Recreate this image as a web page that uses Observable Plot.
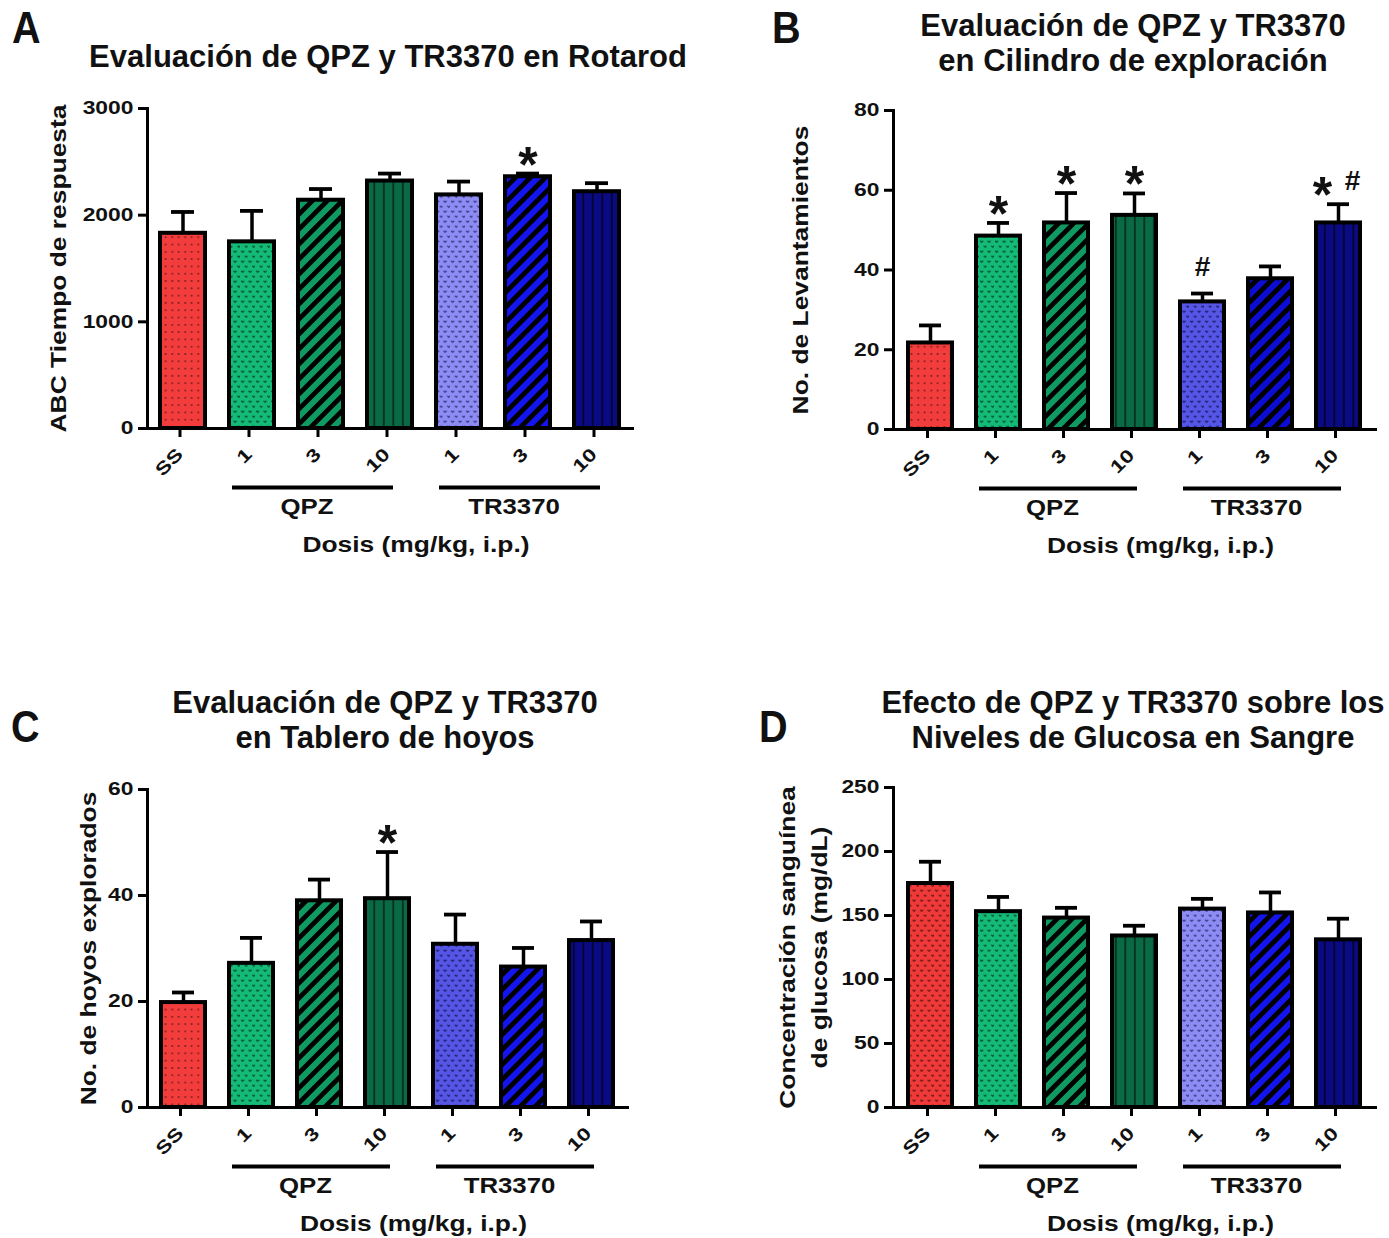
<!DOCTYPE html>
<html><head><meta charset="utf-8">
<script src="https://cdn.jsdelivr.net/npm/d3@7"></script>
<script src="https://cdn.jsdelivr.net/npm/@observablehq/plot@0.6"></script>
<style>
html,body{margin:0;padding:0;background:#fff;}
#page{position:relative;width:1389px;height:1238px;overflow:hidden;font-family:"Liberation Sans",Arial,sans-serif;color:#111;background:#fff;}
.title{position:absolute;font-weight:700;font-size:31px;line-height:35px;text-align:center;white-space:nowrap;width:700px;}
.letter{position:absolute;font-weight:700;font-size:45px;line-height:44px;transform:scaleX(0.88);transform-origin:left top;}
.panel{position:absolute;}
</style></head><body>
<svg width="0" height="0" style="position:absolute">
<defs>
<pattern id="pDotsRed" width="6.5" height="7.3" patternUnits="userSpaceOnUse">
 <rect width="6.5" height="7.3" fill="#f33d3d"/><rect x="2.4" y="2.8" width="1.6" height="1.6" fill="#3a0c0c" opacity="0.75"/>
</pattern>
<pattern id="pHeartRed" width="7.5" height="10" patternUnits="userSpaceOnUse">
 <rect width="7.5" height="10" fill="#f03a3a"/>
 <path d="M0.6,1.2 l1,-0.9 l1,0.9 l1,-0.9 l1,0.9 l-2,2.1z M4.35,6.2 l1,-0.9 l1,0.9 l1,-0.9 l1,0.9 l-2,2.1z" fill="#5a1010" opacity="0.75"/>
</pattern>
<pattern id="pHeartGreen" width="7.5" height="10" patternUnits="userSpaceOnUse">
 <rect width="7.5" height="10" fill="#14bb76"/>
 <path d="M0.6,1.2 l1,-0.9 l1,0.9 l1,-0.9 l1,0.9 l-2,2.1z M4.35,6.2 l1,-0.9 l1,0.9 l1,-0.9 l1,0.9 l-2,2.1z" fill="#04402a" opacity="0.75"/>
</pattern>
<pattern id="pHeartLav" width="7.5" height="10" patternUnits="userSpaceOnUse">
 <rect width="7.5" height="10" fill="#8c8cf4"/>
 <path d="M0.6,1.2 l1,-0.9 l1,0.9 l1,-0.9 l1,0.9 l-2,2.1z M4.35,6.2 l1,-0.9 l1,0.9 l1,-0.9 l1,0.9 l-2,2.1z" fill="#2a2a70" opacity="0.75"/>
</pattern>
<pattern id="pHeartBlue" width="7.5" height="10" patternUnits="userSpaceOnUse">
 <rect width="7.5" height="10" fill="#5555e6"/>
 <path d="M0.6,1.2 l1,-0.9 l1,0.9 l1,-0.9 l1,0.9 l-2,2.1z M4.35,6.2 l1,-0.9 l1,0.9 l1,-0.9 l1,0.9 l-2,2.1z" fill="#15155a" opacity="0.75"/>
</pattern>
<pattern id="pDiagGreen" width="10.6" height="10.6" patternUnits="userSpaceOnUse" patternTransform="rotate(45)">
 <rect width="10.6" height="10.6" fill="#0f9a62"/><rect width="4.8" height="10.6" fill="#000"/>
</pattern>
<pattern id="pDiagBlue" width="10.6" height="10.6" patternUnits="userSpaceOnUse" patternTransform="rotate(45)">
 <rect width="10.6" height="10.6" fill="#1414ee"/><rect width="4.8" height="10.6" fill="#000"/>
</pattern>
<pattern id="pDiagBlueB" width="10.6" height="10.6" patternUnits="userSpaceOnUse" patternTransform="rotate(45)">
 <rect width="10.6" height="10.6" fill="#0c0cd2"/><rect width="4.8" height="10.6" fill="#000"/>
</pattern>
<pattern id="pVertGreen" width="9.5" height="10" patternUnits="userSpaceOnUse">
 <rect width="9.5" height="10" fill="#0b6a46"/><rect x="3" width="1.6" height="10" fill="#04281a"/>
</pattern>
<pattern id="pVertNavy" width="9.5" height="10" patternUnits="userSpaceOnUse">
 <rect width="9.5" height="10" fill="#0a0a82"/><rect x="3" width="1.6" height="10" fill="#02022a"/>
</pattern>
</defs></svg>
<div id="page"></div>
<script>
// ---- data ----
const categories = ["SS", "QPZ 1", "QPZ 3", "QPZ 10", "TR3370 1", "TR3370 3", "TR3370 10"];
const tickLabels = ["SS", "1", "3", "10", "1", "3", "10"];
const groupNames = ["QPZ", "TR3370"];
const groupFirst = ["QPZ 1", "TR3370 1"];
const groupLast = ["QPZ 10", "TR3370 10"];
const groupMid = ["QPZ 3", "TR3370 3"];
const xTitle = "Dosis (mg/kg, i.p.)";

const rotarodMean = [1830, 1750, 2140, 2320, 2190, 2360, 2220];
const rotarodSem = [200, 290, 105, 70, 125, 30, 80];
const rotarodTicks = [0, 1000, 2000, 3000];
const rotarodMarks = [["TR3370 3", "*"]];

const cilindroMean = [21.7, 48.5, 51.8, 53.7, 32.0, 37.8, 51.8];
const cilindroSem = [4.4, 3.3, 7.5, 5.5, 2.1, 3.1, 4.7];
const cilindroTicks = [0, 20, 40, 60, 80];
const cilindroMarks = [["QPZ 1", "*"], ["QPZ 3", "*"], ["QPZ 10", "*"], ["TR3370 1", "#"], ["TR3370 10", "*"], ["TR3370 10", "#"]];

const tableroMean = [19.8, 27.2, 39.0, 39.4, 30.8, 26.5, 31.5];
const tableroSem = [1.9, 4.8, 4.0, 8.8, 5.6, 3.6, 3.6];
const tableroTicks = [0, 20, 40, 60];
const tableroMarks = [["QPZ 10", "*"]];

const glucosaMean = [175, 153, 148, 134, 155, 152, 131];
const glucosaSem = [17, 11.5, 8, 8, 8, 16, 16.5];
const glucosaTicks = [0, 50, 100, 150, 200, 250];
const glucosaMarks = [];

// ---- layout / style ----
const FONT = "Liberation Sans, Arial, Helvetica, sans-serif";
const page = document.getElementById("page");

function addDiv(cls, text, left, top, extra) {
  const d = document.createElement("div");
  d.className = cls;
  d.innerHTML = text;
  d.style.left = left + "px";
  d.style.top = top + "px";
  if (extra) Object.assign(d.style, extra);
  page.appendChild(d);
}

function stretch(svg) {
  svg.querySelectorAll("text").forEach((t) => {
    const s = t.textContent.trim();
    if (s === "*" || s === "#") return;
    const g = t.closest("g[aria-label]");
    const lab = g ? g.getAttribute("aria-label") : "";
    const k = /tick label/.test(lab) ? 1.27 : 1.2;
    let tr = t.getAttribute("transform");
    if (!tr) {
      const x = t.getAttribute("x") || 0, y = t.getAttribute("y") || 0;
      t.removeAttribute("x"); t.removeAttribute("y");
      tr = `translate(${x},${y})`;
    }
    t.setAttribute("transform", tr + ` scale(${k},1)`);
  });
}

function panel(cfg) {
  const data = categories.map((c, i) => ({key: c, mean: cfg.mean[i], top: cfg.mean[i] + cfg.sem[i]}));
  const topOf = Object.fromEntries(data.map((d) => [d.key, d.top]));
  const ann = cfg.marks.map(([key, sym]) => ({key, sym, top: topOf[key], pair: cfg.marks.filter((m) => m[0] === key).length > 1}));
  const groups = groupNames.map((g, i) => ({g, x1: groupFirst[i], x2: groupLast[i], mid: groupMid[i]}));
  const W = cfg.w, H = cfg.h;
  const textOpts = {fontFamily: FONT, fontWeight: "bold", fill: "#111"};
  const chart = Plot.plot({
    width: W, height: H,
    marginLeft: cfg.L - cfg.ox, marginRight: cfg.ox + W - cfg.R,
    marginTop: cfg.T - cfg.oy, marginBottom: cfg.oy + H - cfg.B,
    style: {background: "transparent", color: "#111", fontFamily: FONT, overflow: "visible"},
    x: {type: "band", domain: categories, paddingInner: 0.35, paddingOuter: 0.17, label: null},
    y: {domain: [0, cfg.max], label: null},
    marks: [
      ...data.map((d, i) => Plot.barY([d], {x: "key", y: "mean", fill: `url(#${cfg.fills[i]})`, stroke: "#000", strokeWidth: 4})),
      Plot.ruleX(data, {x: "key", y1: "mean", y2: "top", stroke: "#000", strokeWidth: 3.5}),
      Plot.tickY(data, {x: "key", y: "top", stroke: "#000", strokeWidth: 3.8, insetLeft: 11, insetRight: 11}),
      Plot.text(ann.filter((a) => a.sym === "*" && !a.pair), {x: "key", y: "top", text: "sym", dy: -8, fontSize: 50, ...textOpts}),
      Plot.text(ann.filter((a) => a.sym === "#" && !a.pair), {x: "key", y: "top", text: "sym", dy: -26, fontSize: 28, ...textOpts}),
      Plot.text(ann.filter((a) => a.sym === "*" && a.pair), {x: "key", y: "top", text: "sym", dy: -8, dx: -16, fontSize: 50, ...textOpts}),
      Plot.text(ann.filter((a) => a.sym === "#" && a.pair), {x: "key", y: "top", text: "sym", dy: -23, dx: 14, fontSize: 28, ...textOpts}),
      Plot.frame({anchor: "left", stroke: "#000", strokeWidth: 3}),
      Plot.frame({anchor: "bottom", stroke: "#000", strokeWidth: 3}),
      Plot.axisY({ticks: cfg.ticks, tickFormat: (d) => String(d), tickSize: 9, tickPadding: 5, strokeWidth: 3, stroke: "#000", label: null, fontSize: 18, ...textOpts}),
      Plot.axisX({tickSize: 9, tickPadding: 14, tickRotate: -45, dx: -3, strokeWidth: 3, stroke: "#000", label: null,
        tickFormat: (d) => tickLabels[categories.indexOf(d)], fontSize: 18, ...textOpts}),
      Plot.ruleY(groups, {x1: "x1", x2: "x2", y: () => 0, dy: 59, stroke: "#000", strokeWidth: 4, insetLeft: 3, insetRight: 19}),
      Plot.text(groups, {x: "mid", y: () => 0, text: "g", dy: 79, dx: -14, fontSize: 21.5, ...textOpts}),
      Plot.text([xTitle], {text: (d) => d, frameAnchor: "bottom", lineAnchor: "middle", textAnchor: "middle", dy: 116, dx: 26, fontSize: 22, ...textOpts}),
      Plot.text([cfg.ylabel], {text: (d) => d, frameAnchor: "left", textAnchor: "middle", lineAnchor: "middle", rotate: -90, dx: cfg.ydx, fontSize: 22, lineHeight: 1.45, ...textOpts})
    ]
  });
  chart.classList.add("panel");
  chart.style.left = cfg.ox + "px";
  chart.style.top = cfg.oy + "px";
  page.appendChild(chart);
  stretch(chart);
}

panel({ox: 0, oy: 0, w: 694, h: 619, L: 147, R: 632, T: 108, B: 428, max: 3000,
  mean: rotarodMean, sem: rotarodSem, ticks: rotarodTicks, marks: rotarodMarks,
  fills: ["pDotsRed", "pHeartGreen", "pDiagGreen", "pVertGreen", "pHeartLav", "pDiagBlue", "pVertNavy"],
  ylabel: "ABC Tiempo de respuesta", ydx: -92});
panel({ox: 694, oy: 0, w: 695, h: 619, L: 893, R: 1375, T: 110, B: 429, max: 80,
  mean: cilindroMean, sem: cilindroSem, ticks: cilindroTicks, marks: cilindroMarks,
  fills: ["pDotsRed", "pHeartGreen", "pDiagGreen", "pVertGreen", "pHeartBlue", "pDiagBlueB", "pVertNavy"],
  ylabel: "No. de Levantamientos", ydx: -96});
panel({ox: 0, oy: 619, w: 694, h: 619, L: 147, R: 627, T: 789, B: 1107, max: 60,
  mean: tableroMean, sem: tableroSem, ticks: tableroTicks, marks: tableroMarks,
  fills: ["pDotsRed", "pHeartGreen", "pDiagGreen", "pVertGreen", "pHeartBlue", "pDiagBlue", "pVertNavy"],
  ylabel: "No. de hoyos explorados", ydx: -62});
panel({ox: 694, oy: 619, w: 695, h: 619, L: 893, R: 1375, T: 787, B: 1107, max: 250,
  mean: glucosaMean, sem: glucosaSem, ticks: glucosaTicks, marks: glucosaMarks,
  fills: ["pHeartRed", "pHeartGreen", "pDiagGreen", "pVertGreen", "pHeartLav", "pDiagBlue", "pVertNavy"],
  ylabel: "Concentración sanguínea\nde glucosa (mg/dL)", ydx: -93});

// titles and panel letters
addDiv("letter", "A", 12, 6);
addDiv("letter", "B", 772, 6);
addDiv("letter", "C", 11, 705);
addDiv("letter", "D", 759, 705);
addDiv("title", "Evaluación de QPZ y TR3370 en Rotarod", 388 - 350, 39);
addDiv("title", "Evaluación de QPZ y TR3370<br>en Cilindro de exploración", 1133 - 350, 8);
addDiv("title", "Evaluación de QPZ y TR3370<br>en Tablero de hoyos", 385 - 350, 685);
addDiv("title", "Efecto de QPZ y TR3370 sobre los<br>Niveles de Glucosa en Sangre", 1133 - 350, 685);
</script>
</body></html>
